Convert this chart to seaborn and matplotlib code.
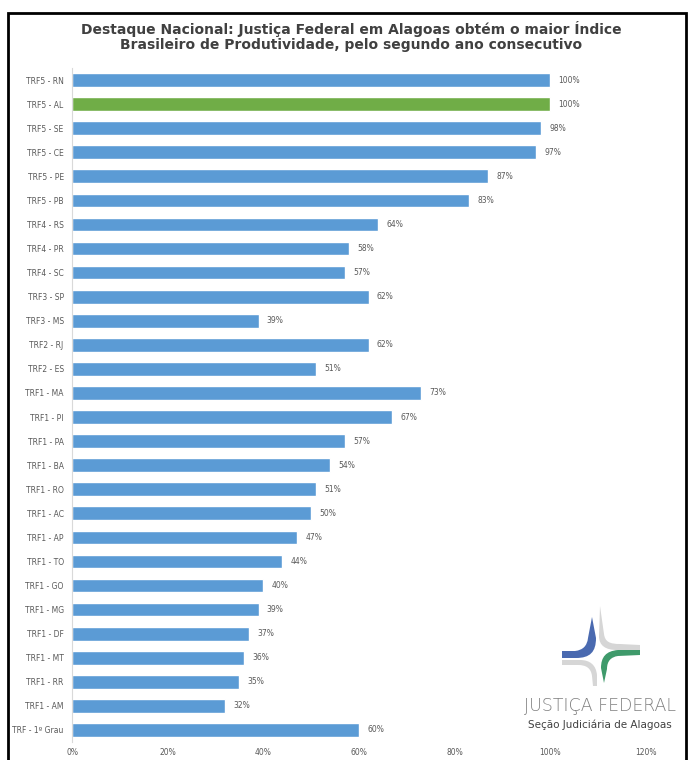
import numpy as np
import pandas as pd
import matplotlib.pyplot as plt
import matplotlib.patches as mpatches
from matplotlib.path import Path
import seaborn as sns

tribunais = ['TRF5 - RN', 'TRF5 - AL', 'TRF5 - SE', 'TRF5 - CE', 'TRF5 - PE', 'TRF5 - PB',
             'TRF4 - RS', 'TRF4 - PR', 'TRF4 - SC', 'TRF3 - SP', 'TRF3 - MS',
             'TRF2 - RJ', 'TRF2 - ES', 'TRF1 - MA', 'TRF1 - PI', 'TRF1 - PA', 'TRF1 - BA',
             'TRF1 - RO', 'TRF1 - AC', 'TRF1 - AP', 'TRF1 - TO', 'TRF1 - GO', 'TRF1 - MG',
             'TRF1 - DF', 'TRF1 - MT', 'TRF1 - RR', 'TRF1 - AM', 'TRF - 1º Grau']
ipc = [100, 100, 98, 97, 87, 83, 64, 58, 57, 62, 39, 62, 51, 73, 67, 57, 54,
       51, 50, 47, 44, 40, 39, 37, 36, 35, 32, 60]
destaque = 'TRF5 - AL'
xticks = [0, 20, 40, 60, 80, 100, 120]

df = pd.DataFrame({'Tribunal': tribunais, 'IPC': ipc})
df['grupo'] = np.where(df['Tribunal'] == destaque, 'AL', 'outros')

sns.set_style('white')
plt.rcParams['font.family'] = ['DejaVu Sans']

fig = plt.figure(figsize=(6.89, 7.60), dpi=100)
ax = fig.add_axes([0.1045, 0.0237, 0.8331, 0.8868])

sns.barplot(data=df, y='Tribunal', x='IPC', hue='grupo', orient='h',
            palette={'outros': '#5B9BD5', 'AL': '#70AD47'}, width=0.57,
            dodge=False, legend=False, ax=ax, saturation=1)

for cont in ax.containers:
    ax.bar_label(cont, labels=[f'{v:.0f}%' for v in cont.datavalues],
                 padding=6, fontsize=5.5, color='#595959')

ax.set_xlim(0, 120)
ax.set_ylim(len(tribunais) - 0.5, -0.5)
ax.set_xticks(xticks)
ax.set_xticklabels([f'{t}%' for t in xticks], fontsize=5.5, color='#595959')
ax.tick_params(axis='y', labelsize=5.5, labelcolor='#595959', length=0, pad=6)
ax.tick_params(axis='x', length=0, pad=4)
ax.set_xlabel('')
ax.set_ylabel('')
for s in ['top', 'right', 'bottom']:
    ax.spines[s].set_visible(False)
ax.spines['left'].set_color('#D9D9D9')
ax.spines['left'].set_linewidth(0.8)

fig.text(0.51, 0.9618, 'Destaque Nacional: Justiça Federal em Alagoas obtém o maior Índice',
         ha='center', va='center', fontsize=10, fontweight='bold', color='#404040')
fig.text(0.51, 0.9408, 'Brasileiro de Produtividade, pelo segundo ano consecutivo',
         ha='center', va='center', fontsize=10, fontweight='bold', color='#404040')

# moldura
fig.patches.append(mpatches.Rectangle((8 / 689, -0.05), 678 / 689, 1.05 - 13 / 760,
                                      transform=fig.transFigure, fill=False,
                                      edgecolor='black', linewidth=2))

# logo (coordenadas em pixels da imagem)
lg = fig.add_axes([555 / 689, 1 - 690 / 760, 90 / 689, 90 / 760])
lg.set_xlim(555, 645)
lg.set_ylim(690, 600)
lg.axis('off')

M, L, C, Z = Path.MOVETO, Path.LINETO, Path.CURVE4, Path.CLOSEPOLY


def forma(pts, codes, cor):
    lg.add_patch(mpatches.PathPatch(Path(pts, codes), facecolor=cor, edgecolor='none'))


# cinza superior direito
forma([(600, 606), (604, 634), (605, 642), (610, 644), (620, 644), (640, 645),
       (640, 650), (617, 650), (606, 650), (599, 646), (599, 636), (600, 606)],
      [M, L, C, C, C, L, L, L, C, C, C, Z], '#D6D6D6')
# cinza inferior esquerdo
forma([(562, 660), (580, 660), (590, 660), (596, 665), (597, 675), (597, 686),
       (593, 686), (592, 676), (591, 668), (586, 665), (578, 665), (562, 665),
       (562, 660)],
      [M, L, C, C, C, L, L, L, C, C, C, L, Z], '#D6D6D6')
# azul
forma([(592, 617), (596, 638), (596, 652), (590, 658), (576, 658), (562, 658),
       (562, 651), (575, 651), (583, 650), (587, 646), (588, 638), (592, 617)],
      [M, L, C, C, C, L, L, L, C, C, C, Z], '#4A6AB0')
# verde
forma([(640, 650), (640, 655), (618, 656), (611, 657), (607, 661), (607, 669),
       (604, 683), (601, 668), (601, 657), (606, 651), (618, 650), (640, 650)],
      [M, L, L, C, C, C, L, L, C, C, C, Z], '#3F9A6B')

fig.text(0.871, 0.071, 'JUSTIÇA FEDERAL', ha='center', va='center', fontsize=12.5,
         color='#7F7F7F', fontweight='light')
fig.text(0.871, 0.047, 'Seção Judiciária de Alagoas', ha='center', va='center',
         fontsize=7.5, color='#404040')

fig.savefig('out.png', dpi=100)
